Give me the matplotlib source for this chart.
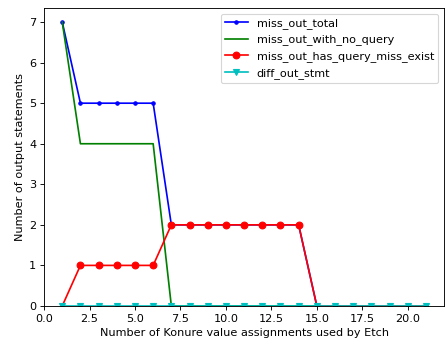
import numpy as np
import matplotlib
matplotlib.use("Agg")
import matplotlib.pyplot as plt

x = list(range(1, 22))
miss_out_total = [7, 5, 5, 5, 5, 5, 2, 2, 2, 2, 2, 2, 2, 2, 0, 0, 0, 0, 0, 0, 0]
miss_out_with_no_query = [7, 4, 4, 4, 4, 4, 0, 0, 0, 0, 0, 0, 0, 0, 0, 0, 0, 0, 0, 0, 0]
miss_out_has_query_miss_exist = [0, 1, 1, 1, 1, 1, 2, 2, 2, 2, 2, 2, 2, 2, 0, 0, 0, 0, 0, 0, 0]
diff_out_stmt = [0] * 21

# reference looks like it was drawn at a lower dpi, so scale everything down
dpi = 81
fig = plt.figure(figsize=(445 / dpi, 343 / dpi), dpi=dpi)
ax = fig.add_axes([0.099, 0.108, 0.899, 0.869])

ax.plot(x, miss_out_total, 'b.-', label='miss_out_total')
ax.plot(x, miss_out_with_no_query, 'g-', label='miss_out_with_no_query')
red_marks = [i for i, v in enumerate(miss_out_has_query_miss_exist) if v != 0]
ax.plot(x, miss_out_has_query_miss_exist, 'ro-', markevery=red_marks,
        label='miss_out_has_query_miss_exist')
ax.plot(x, diff_out_stmt, 'cv-', label='diff_out_stmt')

ax.set_ylim(bottom=0)
ax.set_xlabel('Number of Konure value assignments used by Etch')
ax.set_ylabel('Number of output statements')
ax.legend(loc='upper right')

fig.savefig('out.png', dpi=dpi)
